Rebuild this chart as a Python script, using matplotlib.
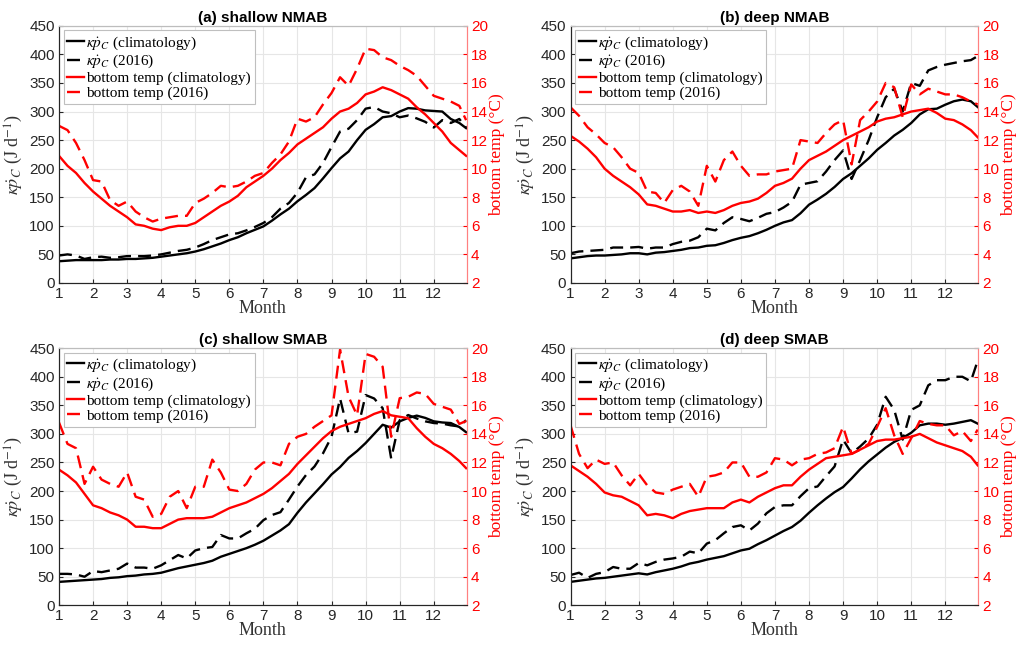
import numpy as np
import matplotlib
matplotlib.use('Agg')
import matplotlib.pyplot as plt

plt.rcParams['mathtext.fontset'] = 'stix'

# quarter-month sampling (last point = end of December)
month = np.r_[np.arange(1, 12.76, 0.25), 12.95]
month_ticks = list(range(1, 13))

titles = ['(a) shallow NMAB', '(b) deep NMAB', '(c) shallow SMAB', '(d) deep SMAB']

# kappa*pdot_C (J d^-1)
a_kc = [38, 39, 40, 40, 40, 40, 41, 41, 42, 42, 43, 44, 46, 48, 50, 52, 55, 59, 64, 69, 75, 80, 87, 93,
        99, 109, 120, 130, 143, 154, 166, 183, 201, 218, 230, 250, 268, 278, 290, 292, 300, 306, 305, 302,
        301, 300, 287, 280, 271]
a_k16 = [48, 50, 48, 42, 45, 46, 44, 45, 47, 47, 47, 48, 50, 53, 56, 58, 62, 68, 75, 80, 85, 87, 92, 98,
         105, 115, 130, 140, 158, 185, 190, 210, 238, 265, 270, 285, 305, 308, 300, 297, 290, 293, 288, 282,
         272, 285, 280, 287, 272]
b_kc = [43, 45, 47, 48, 48, 49, 50, 52, 52, 50, 53, 54, 56, 58, 61, 62, 65, 66, 70, 75, 79, 82, 87, 93,
        100, 106, 110, 122, 137, 146, 156, 168, 182, 192, 205, 218, 233, 245, 258, 268, 280, 295, 304, 305,
        312, 318, 321, 318, 308]
b_k16 = [52, 55, 56, 57, 58, 62, 62, 62, 63, 60, 62, 62, 68, 72, 74, 80, 95, 92, 105, 115, 112, 108, 114, 121,
         124, 132, 142, 172, 175, 178, 195, 215, 232, 182, 215, 250, 290, 325, 340, 300, 350, 345, 372, 378,
         382, 385, 388, 390, 397]
c_kc = [41, 42, 43, 44, 45, 46, 48, 49, 51, 52, 54, 55, 57, 61, 65, 68, 71, 74, 78, 85, 90, 95, 100, 106,
        113, 122, 131, 142, 162, 180, 196, 212, 229, 242, 258, 270, 284, 300, 316, 311, 322, 328, 332, 328,
        322, 320, 319, 312, 303]
c_k16 = [55, 55, 54, 50, 60, 58, 61, 64, 73, 66, 66, 64, 70, 79, 88, 82, 96, 100, 102, 123, 117, 117, 126, 134,
         149, 158, 163, 185, 208, 228, 243, 266, 295, 362, 301, 304, 368, 362, 345, 257, 324, 333, 327, 322,
         319, 318, 315, 313, 324]
d_kc = [41, 43, 45, 47, 48, 50, 52, 54, 56, 54, 58, 61, 64, 68, 73, 76, 80, 83, 86, 91, 96, 99, 107, 114,
        122, 130, 137, 148, 162, 175, 187, 198, 207, 222, 238, 252, 264, 276, 286, 293, 302, 315, 318, 318,
        316, 318, 321, 324, 318]
d_k16 = [53, 57, 48, 55, 58, 67, 64, 64, 74, 70, 76, 80, 82, 85, 94, 91, 108, 114, 126, 137, 140, 131, 143, 161,
         172, 175, 175, 191, 205, 208, 226, 243, 290, 266, 278, 292, 316, 365, 342, 290, 342, 350, 385, 394,
         394, 400, 400, 392, 428]

# bottom temperature (deg C)
a_tc = [10.9, 10.2, 9.7, 9.0, 8.4, 7.9, 7.4, 7.0, 6.6, 6.1, 6.0, 5.8, 5.7, 5.9, 6.0, 6.0, 6.2, 6.6, 7.0, 7.4,
        7.7, 8.1, 8.7, 9.1, 9.5, 10.0, 10.6, 11.1, 11.7, 12.1, 12.5, 12.9, 13.5, 14.0, 14.2, 14.6, 15.2, 15.4,
        15.7, 15.5, 15.2, 14.9, 14.3, 13.8, 13.2, 12.6, 11.8, 11.3, 10.9]
a_t16 = [13.0, 12.7, 11.8, 10.6, 9.2, 9.1, 7.8, 7.4, 7.7, 7.0, 6.6, 6.3, 6.5, 6.6, 6.7, 6.7, 7.6, 7.9, 8.3, 8.8,
         8.7, 8.8, 9.1, 9.5, 9.7, 10.4, 11.0, 11.9, 13.5, 13.3, 13.6, 14.5, 15.3, 16.4, 15.8, 17.0, 18.4, 18.3,
         17.8, 17.6, 17.2, 16.9, 16.5, 15.8, 15.1, 14.9, 14.7, 14.4, 13.4]
b_tc = [12.3, 11.9, 11.4, 10.8, 10.0, 9.5, 9.1, 8.7, 8.2, 7.5, 7.4, 7.2, 7.0, 7.0, 7.1, 6.9, 7.0, 6.9, 7.1, 7.4,
        7.6, 7.7, 7.9, 8.3, 8.8, 9.0, 9.3, 10.0, 10.6, 10.9, 11.2, 11.6, 12.0, 12.3, 12.6, 12.9, 13.3, 13.5,
        13.6, 13.8, 14.0, 14.1, 14.2, 13.9, 13.5, 13.4, 13.1, 12.7, 12.2]
b_t16 = [14.3, 13.7, 12.9, 12.4, 11.8, 11.5, 10.8, 10.0, 9.7, 8.4, 8.3, 7.6, 8.5, 8.8, 8.4, 7.4, 10.2, 9.1, 10.6,
         11.2, 10.2, 9.5, 9.6, 9.6, 9.8, 9.9, 10.0, 12.0, 11.9, 11.8, 12.5, 13.1, 13.4, 10.3, 13.4, 14.0, 14.7,
         16.0, 15.7, 13.6, 15.9, 15.2, 15.6, 15.4, 15.2, 15.2, 15.0, 14.7, 14.5]
c_tc = [11.5, 11.1, 10.6, 9.8, 9.0, 8.8, 8.5, 8.3, 8.0, 7.5, 7.5, 7.4, 7.4, 7.7, 8.0, 8.1, 8.1, 8.1, 8.2, 8.5,
        8.8, 9.0, 9.2, 9.5, 9.8, 10.2, 10.7, 11.2, 11.9, 12.5, 13.1, 13.7, 14.2, 14.5, 14.7, 14.9, 15.1, 15.4,
        15.6, 15.3, 15.2, 15.1, 14.4, 13.8, 13.3, 13.0, 12.6, 12.1, 11.6]
c_t16 = [14.8, 13.3, 13.0, 10.5, 11.7, 10.8, 10.5, 10.3, 11.3, 9.6, 9.4, 8.2, 8.4, 9.6, 10.0, 8.8, 10.3, 10.3,
         12.2, 11.3, 10.1, 10.0, 10.5, 11.5, 12.0, 12.0, 11.8, 13.3, 13.8, 14.0, 14.5, 14.9, 15.3, 19.9, 16.6,
         15.3, 19.6, 19.4, 18.7, 13.8, 16.5, 16.6, 16.9, 16.8, 16.1, 15.9, 15.7, 14.7, 14.9]
d_tc = [11.8, 11.4, 11.0, 10.5, 9.9, 9.7, 9.6, 9.3, 9.0, 8.3, 8.4, 8.3, 8.1, 8.4, 8.6, 8.7, 8.8, 8.8, 8.8, 9.2,
        9.4, 9.2, 9.6, 9.9, 10.2, 10.4, 10.4, 11.0, 11.5, 11.9, 12.3, 12.4, 12.5, 12.6, 12.9, 13.2, 13.5, 13.6,
        13.6, 13.7, 13.8, 14.0, 13.7, 13.4, 13.2, 13.0, 12.8, 12.4, 11.8]
d_t16 = [14.6, 12.6, 11.6, 12.2, 11.9, 12.0, 11.1, 10.4, 11.2, 10.4, 9.9, 9.8, 10.1, 10.3, 10.5, 9.6, 11.0, 11.1,
         11.3, 12.0, 12.0, 11.0, 11.0, 11.3, 12.3, 12.2, 11.8, 12.2, 12.3, 12.6, 12.7, 13.0, 14.5, 12.6, 12.9,
         13.3, 14.5, 15.8, 13.9, 12.6, 13.7, 14.9, 14.7, 14.6, 14.6, 13.9, 14.2, 13.5, 14.3]

kc_all = [a_kc, b_kc, c_kc, d_kc]
k16_all = [a_k16, b_k16, c_k16, d_k16]
tc_all = [a_tc, b_tc, c_tc, d_tc]
t16_all = [a_t16, b_t16, c_t16, d_t16]

legend_labels = [r'$\kappa\dot{p}_C$ (climatology)', r'$\kappa\dot{p}_C$ (2016)',
                 'bottom temp (climatology)', 'bottom temp (2016)']

positions = [[0.058, 0.562, 0.401, 0.398], [0.561, 0.562, 0.401, 0.398],
             [0.058, 0.063, 0.401, 0.398], [0.561, 0.063, 0.401, 0.398]]

sans = 'Liberation Sans'
serif = 'Liberation Serif'
RED = '#ff0000'
SPINE = '#262626'
dash = (0, (5.5, 3.0))

fig = plt.figure(figsize=(10.17, 6.46), dpi=100)
for i in range(4):
    ax = fig.add_axes(positions[i])
    ax2 = ax.twinx()
    ax.set_zorder(1)
    ax2.set_zorder(2)
    ax.patch.set_visible(True)
    ax2.patch.set_visible(False)

    h1, = ax.plot(month, kc_all[i], color='k', lw=1.7)
    h2, = ax.plot(month, k16_all[i], color='k', lw=1.7, ls=dash)
    h3, = ax2.plot(month, tc_all[i], color=RED, lw=1.7)
    h4, = ax2.plot(month, t16_all[i], color=RED, lw=1.7, ls=dash)

    ax.set_xlim(1, 12.97)
    ax.set_ylim(0, 450)
    ax2.set_ylim(2, 20)
    ax.set_xticks(month_ticks)
    ax.set_yticks(np.arange(0, 451, 50))
    ax2.set_yticks(np.arange(2, 21, 2))
    ax.grid(True, color='#e6e6e6', lw=0.8)
    ax.set_axisbelow(True)

    ax.tick_params(axis='both', direction='in', length=3, labelsize=11, colors=SPINE, pad=3)
    ax2.tick_params(axis='y', direction='in', length=3, labelsize=11, colors=RED, pad=3)
    for lab in ax.get_xticklabels() + ax.get_yticklabels() + ax2.get_yticklabels():
        lab.set_fontfamily(sans)
    for s in ['left', 'bottom', 'top']:
        ax.spines[s].set_color(SPINE)
        ax2.spines[s].set_color(SPINE)
    ax.spines['top'].set_color('#bdbdbd')
    ax2.spines['top'].set_color('#bdbdbd')
    ax2.spines['right'].set_color('#ff8080')
    ax.spines['right'].set_color('#ff8080')
    for sp in list(ax.spines.values()) + list(ax2.spines.values()):
        sp.set_linewidth(0.8)

    ax.set_title(titles[i], fontfamily=sans, fontweight='bold', fontsize=11, pad=3)
    ax.set_xlabel('Month', fontfamily=serif, fontsize=13, labelpad=-1, color='#333333')
    ax.set_ylabel(r'$\kappa\dot{p}_C$ (J d$^{-1}$)', fontfamily=serif, fontsize=13,
                  labelpad=3, color='#333333')
    ax2.set_ylabel('bottom temp (°C)', fontfamily=serif, fontsize=12.5, color=RED, labelpad=1)

    leg = ax2.legend([h1, h2, h3, h4], legend_labels, loc='upper left',
                     prop={'family': serif, 'size': 11}, fancybox=False, framealpha=1,
                     edgecolor='#bfbfbf', handlelength=1.1, handletextpad=0.15,
                     borderpad=0.25, labelspacing=0.08, borderaxespad=0.3)
    leg.get_frame().set_linewidth(0.8)

fig.savefig('out.png', dpi=100)
